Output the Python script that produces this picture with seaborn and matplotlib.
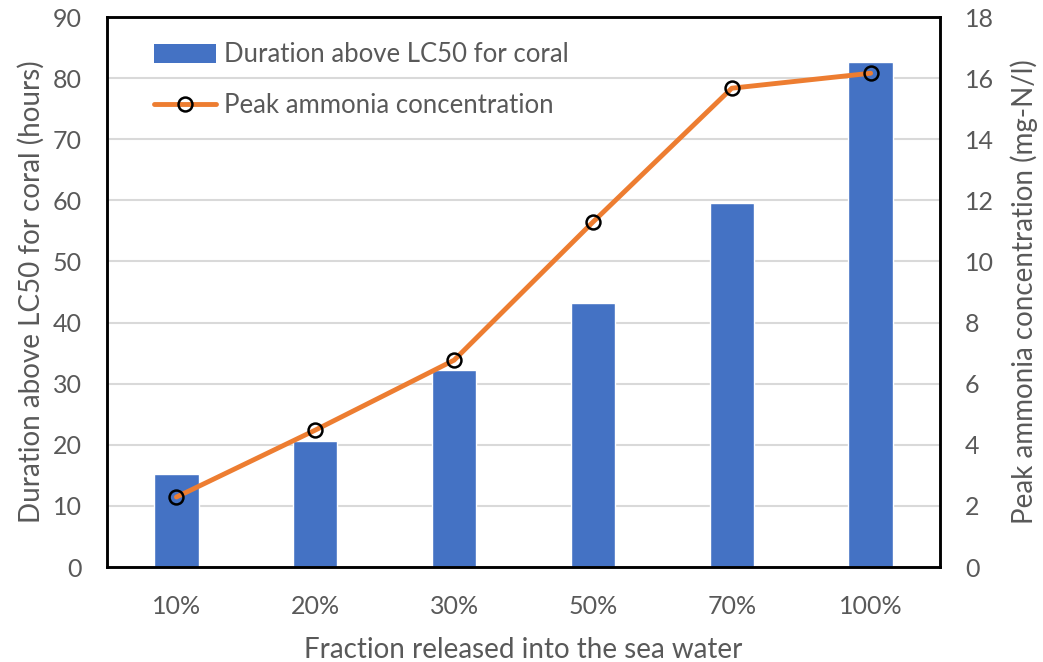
import matplotlib
matplotlib.use("Agg")
import matplotlib.pyplot as plt
from matplotlib.lines import Line2D
from matplotlib.patches import Patch
import seaborn as sns
import pandas as pd

fractions = ["10%", "20%", "30%", "50%", "70%", "100%"]
duration_hours = [15.2, 20.6, 32.2, 43.2, 59.6, 82.6]
peak_ammonia = [2.29, 4.48, 6.77, 11.29, 15.67, 16.16]

bar_label = "Duration above LC50 for coral"
line_label = "Peak ammonia concentration"

df = pd.DataFrame({"fraction": fractions, "duration": duration_hours,
                   "ammonia": peak_ammonia})

sns.set_theme(style="white")
plt.rcParams["font.family"] = ["Lato", "DejaVu Sans"]
text_grey = "#595959"
bar_color = "#4472C4"
line_color = "#ED7D31"

fig = plt.figure(figsize=(10.43, 6.62), dpi=100)
ax = fig.add_axes([0.1026, 0.1435, 0.7987, 0.8308])

sns.barplot(data=df, x="fraction", y="duration", color=bar_color,
            saturation=1, width=0.32, ax=ax, zorder=2)
ax.set_ylim(0, 90)
ax.set_yticks(range(0, 91, 10))
ax.set_xlim(-0.5, 5.5)
ax.yaxis.grid(True, color="#D9D9D9", linewidth=1.5, zorder=0)
ax.set_axisbelow(True)
ax.set_xlabel("Fraction released into the sea water", fontsize=20,
              color=text_grey, labelpad=14)
ax.set_ylabel("Duration above LC50 for coral (hours)", fontsize=20,
              color=text_grey, labelpad=6)

ax2 = ax.twinx()
sns.lineplot(data=df, x="fraction", y="ammonia", color=line_color,
             linewidth=3.5, marker="o", markersize=10, markerfacecolor="none",
             markeredgecolor="black", markeredgewidth=1.8, ax=ax2, zorder=3)
ax2.set_ylim(0, 18)
ax2.set_yticks(range(0, 19, 2))
ax2.set_ylabel("Peak ammonia concentration (mg-N/l)", fontsize=20,
               color=text_grey, labelpad=12)
ax2.set_xlim(-0.5, 5.5)

for a in (ax, ax2):
    a.tick_params(axis="both", length=0, labelsize=18, labelcolor=text_grey,
                  pad=18)
    for s in a.spines.values():
        s.set_color("black")
        s.set_linewidth(1.8)
ax.tick_params(axis="x", pad=20)

handles = [
    Patch(facecolor=bar_color, edgecolor="none"),
    Line2D([0], [0], color=line_color, linewidth=3.5, marker="o",
           markersize=10, markerfacecolor="none", markeredgecolor="black",
           markeredgewidth=1.8),
]
ax2.legend(handles, [bar_label, line_label], loc="upper left",
           bbox_to_anchor=(0.029, 0.996), frameon=False, fontsize=18.5,
           labelcolor=text_grey, handlelength=2.4, handleheight=0.8,
           labelspacing=1.0, handletextpad=0.3)

fig.savefig("out.png", dpi=100)
